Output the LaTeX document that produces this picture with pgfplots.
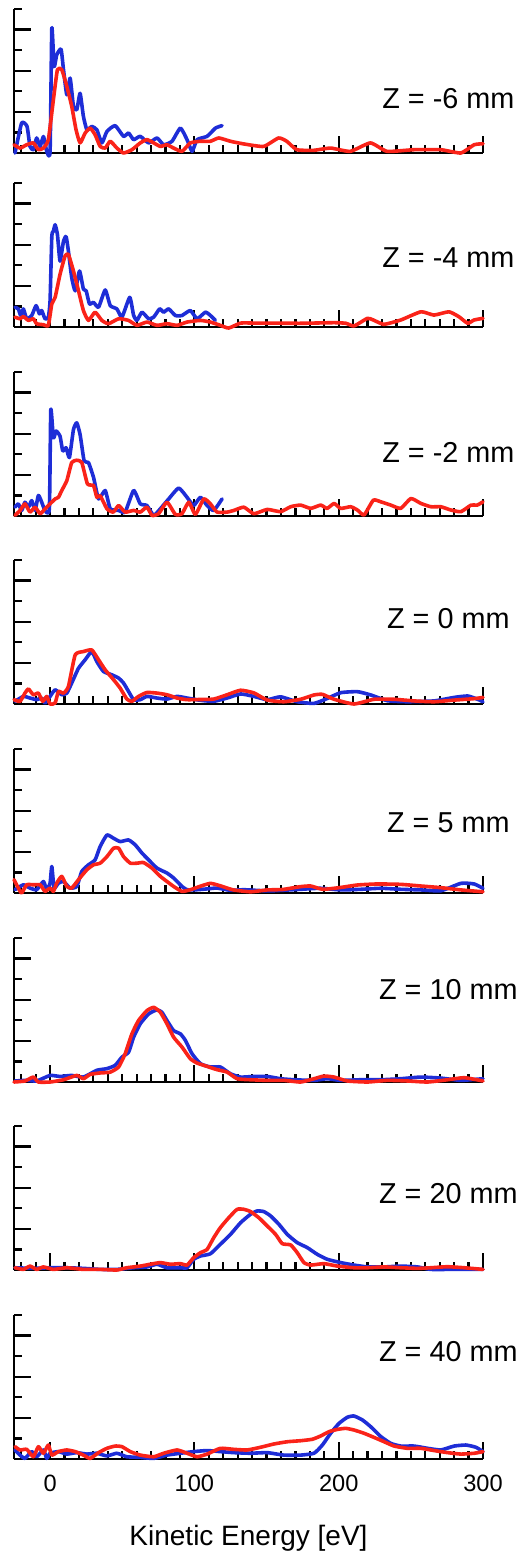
\documentclass[border=0pt]{standalone}
\usepackage{fontspec}
\setmainfont{Liberation Sans}
\usepackage{pgfplots}
\pgfplotsset{compat=1.18}
\definecolor{cblue}{RGB}{30,45,215}
\definecolor{cred}{RGB}{250,35,25}
\pgfplotsset{
  panel/.style={
    width=234.5pt, height=72pt, scale only axis,
    xmin=-25, xmax=300, ymin=0, ymax=7,
    axis lines=left, axis line style={-, line width=1.2pt, black},
    xtick={0,100,200,300}, minor xtick={-20,-10,...,300},
    ytick={2,4,6}, minor ytick={1,3,5,7},
    yticklabels={},
    tick style={black, line width=1.1pt},
    major tick length=8.5pt, minor tick length=4pt,
    tick align=inside,
    clip=false,
    anchor=south west,
    every axis plot/.append style={line width=1.8pt, line join=round, line cap=round, smooth, tension=0.3},
  },
  nolab/.style={xticklabels={}},
  bl/.style={cblue, no marks},
  rd/.style={cred, no marks},
}
\newcommand{\zlab}[2]{\node[font=\fontsize{14.4}{17}\selectfont, anchor=center] at (axis cs:276,#1) {#2};}
\begin{document}
\begin{tikzpicture}
\path[use as bounding box] (-7pt,-700pt) rectangle (256pt,76.5pt);

% Z = -6 mm
\begin{axis}[panel, nolab, at={(0pt,0pt)}]
\addplot[bl] coordinates {(-24.3,0)(-19.7,1.46)(-16,1.3)(-13.9,0.32)(-11.6,0.16)(-9.3,0.73)(-6.9,0.32)(-4.6,0.8)(-2.3,0.08)(0,0.08)(1.2,6.07)(2.8,4.2)(4.6,4.77)(7.6,5.05)(9.3,4.05)(11.6,2.83)(13.9,3.64)(16.2,2.27)(18.5,2.1)(20.8,2.9)(23.1,1.78)(25.5,1.13)(28.9,1.29)(32.4,1.13)(35.9,0.49)(39.4,1.05)(45.1,1.33)(50.9,0.81)(54.4,0.97)(57.9,0.65)(62.5,0.81)(68.3,0.49)(74.1,0.73)(78.7,0.4)(84.5,0.57)(90.3,1.21)(94.9,0.65)(98.4,0.08)(101.9,0.65)(108.8,0.81)(114.6,1.21)(119.2,1.33)};
\addplot[rd] coordinates {(-25,0.4)(-20.8,0.24)(-16.2,0.4)(-11.6,0.49)(-8.1,0.16)(-4.6,0.24)(-1.2,0.65)(2.3,2.59)(5.1,4.05)(8.1,4.05)(11.6,3.24)(15,2.27)(18,1.13)(20.8,0.49)(24.3,0.97)(27.8,1.21)(31.2,0.89)(34.7,0.32)(38.2,0.24)(41.7,0.57)(46.3,0.24)(50.9,0)(56.7,0.16)(62.5,0.49)(67.1,0.65)(71.8,0.49)(76.4,0.32)(81,0.4)(85.6,0.24)(91.4,0.08)(97.2,0.49)(104.2,0.57)(111.1,0.57)(116.9,0.73)(125,0.57)(134.3,0.44)(148,0.32)(158.3,0.73)(164,0.57)(171,0.16)(182.6,0.13)(194.4,0.24)(208,0.08)(222,0.49)(233.5,0.08)(252,0.16)(270.8,0.16)(284.7,0)(293.8,0.4)(300,0.45)};
\zlab{2.65}{Z = -6 mm}
\end{axis}

% Z = -4 mm
\begin{axis}[panel, nolab, at={(0pt,-87pt)}]
\addplot[bl] coordinates {(-24.3,0.96)(-22,0.88)(-20.4,0.56)(-18.5,0.88)(-16.2,0.4)(-12.7,0.56)(-9.7,1.04)(-7.4,0.64)(-5.8,0.8)(-3.5,0.4)(-1.2,0.48)(0,1.28)(1.2,4.4)(2.3,4.65)(3.5,4.97)(5.1,4.49)(6.9,3.2)(9.3,4.17)(11.1,4.4)(12.7,3.69)(15,2.4)(17.4,1.76)(20.4,2.72)(23.1,1.84)(25,1.76)(27.3,1.12)(30.1,1.2)(33.6,0.96)(38.2,1.8)(41.7,1.04)(46.3,0.88)(49.8,0.48)(55.2,1.44)(57.9,0.56)(60.2,0.32)(63.7,0.72)(68.3,0.4)(71.8,0.48)(75.9,0.88)(78.7,0.72)(82.2,0.88)(86.8,0.56)(91.4,0.56)(97.2,0.8)(101.9,0.4)(107.6,0.72)(111.1,0.56)(114.6,0.32)};
\addplot[rd] coordinates {(-24.3,0.48)(-20.8,0.4)(-18.5,0.51)(-15,0.32)(-11.6,0.4)(-9.3,0.16)(-4.6,0.11)(-1.2,0.08)(1.2,1.12)(3.5,1.44)(6.9,2.56)(10.4,3.45)(12.7,3.53)(16.2,2.72)(19.7,1.76)(23.1,0.8)(26.6,0.32)(31.2,0.72)(35.9,0.32)(40.5,0.16)(47.5,0.4)(54.4,0.32)(60.2,0.08)(67.1,0.24)(74.1,0.08)(81,0.16)(88,0.08)(94.9,0.24)(104.2,0.32)(111.1,0.24)(118,0.08)(123.8,-0.05)(132,0.19)(141.2,0.19)(150,0.19)(173.6,0.18)(196.8,0.21)(205,0.18)(210.6,0.05)(219.9,0.42)(224,0.34)(231.3,0.13)(243,0.34)(257,0.74)(266,0.58)(276.4,0.74)(283.3,0.5)(289.4,0.18)(293.8,0.34)(300,0.42)};
\zlab{3.37}{Z = -4 mm}
\end{axis}

% Z = -2 mm
\begin{axis}[panel, nolab, at={(0pt,-181.5pt)}]
\addplot[bl] coordinates {(-24.3,0.43)(-22,0.59)(-19.7,0.27)(-17.4,0.67)(-15,0.43)(-12.7,0.75)(-10.4,0.27)(-8.1,1.0)(-5.8,0.67)(-3.5,0.27)(-0.5,0.35)(0.5,5.17)(2.3,3.8)(4.2,4.13)(6.9,3.88)(8.8,3.16)(11.1,3.32)(13.4,2.84)(16.2,4.2)(18.5,4.53)(20.8,3.96)(23.6,2.68)(26.6,2.6)(30.1,1.88)(33.6,0.83)(38.2,1.24)(41.7,0.35)(47.5,0.27)(52,0.19)(57.9,1.24)(62.5,0.59)(67.1,0.51)(71.8,0.03)(76.4,0.35)(82.2,0.83)(89.1,1.36)(94.9,0.91)(99.5,0.51)(104.2,0.91)(108.8,0.51)(113.4,0.27)(119.2,0.83)};
\addplot[rd] coordinates {(-24.3,0.03)(-20.8,0.27)(-17.4,0.59)(-13.9,0.19)(-10.4,0.43)(-6.9,0.11)(-3.5,0.35)(0,0.59)(3.5,0.83)(5.8,0.91)(8.1,1.24)(11.6,1.72)(15,2.6)(18.5,2.71)(22,2.6)(25.9,1.56)(30.1,1.48)(32.4,0.91)(34.7,0.99)(39.4,0.35)(43.8,0.19)(47.5,0.51)(52,0.19)(57.9,0.27)(62.5,0.19)(67.1,0.43)(70.6,0.03)(75.2,0.11)(81,0.67)(86.8,0.08)(91.4,0.11)(96.1,0.67)(100.7,0.08)(106.5,0.83)(111.1,0.59)(115.7,0.19)(122.7,0.19)(127.3,0.27)(134.3,0.43)(141.2,0.11)(150.5,0.32)(159.7,0.21)(166.7,0.45)(173.6,0.53)(180.6,0.37)(187.5,0.53)(192,0.37)(196.8,0.61)(201.4,0.37)(208.3,0.45)(213,0.29)(217.6,0.05)(224,0.77)(229.2,0.69)(236.1,0.53)(243,0.37)(250,0.85)(257,0.61)(263.9,0.45)(270.8,0.45)(277.8,0.29)(284.7,0.21)(291.7,0.53)(296,0.53)(300,0.69)};
\zlab{3.1}{Z = -2 mm}
\end{axis}

% Z = 0 mm
\begin{axis}[panel, nolab, at={(0pt,-275.5pt)}]
\addplot[bl] coordinates {(-24.3,0.13)(-18.5,0.37)(-13.9,0.29)(-9.3,0.21)(-5.8,0.29)(-3.5,0.05)(0,0.37)(3.5,0.69)(8.1,0.45)(11.6,0.53)(15,1.02)(19.7,1.74)(24.3,2.15)(28.9,2.55)(32.4,2.06)(37,1.58)(42.8,1.42)(47.5,1.26)(50.9,1.02)(54.4,0.61)(57.9,0.21)(62.5,0.21)(67.1,0.37)(74.1,0.29)(81,0.24)(88,0.37)(94.9,0.29)(104.2,0.18)(113.4,0.13)(122.7,0.29)(132,0.49)(141.2,0.37)(150.5,0.21)(159.7,0.35)(171.3,0.11)(182.9,0.03)(192.1,0.27)(201.4,0.55)(213,0.6)(222.2,0.44)(233.8,0.16)(247.7,0.11)(266,0.15)(280,0.32)(289.4,0.39)(296.3,0.23)(300,0.11)};
\addplot[rd] coordinates {(-25,0.21)(-20.8,0.13)(-17.4,0.53)(-15,0.73)(-11.6,0.45)(-8.1,0.53)(-5.1,0.13)(-2.3,0.37)(0,0)(3.5,0.05)(5.8,0.61)(9.3,0.53)(12.7,0.85)(17.4,2.39)(23.1,2.55)(28.9,2.63)(33.6,2.15)(38.2,1.66)(44,1.18)(48.6,0.77)(53.2,0.24)(56.7,0.13)(61.3,0.37)(67.1,0.56)(74.1,0.53)(81,0.45)(88,0.29)(94.9,0.21)(104.2,0.22)(113.4,0.24)(122.7,0.45)(132,0.67)(141.2,0.54)(150.5,0.19)(161.8,0.11)(173.6,0.23)(182.9,0.44)(188.7,0.47)(196.8,0.23)(210.6,0)(224.5,0.23)(238.4,0.23)(252.3,0.15)(266.2,0.11)(280,0.19)(293.8,0.26)(300,0.32)};
\zlab{4.13}{Z = 0 mm}
\end{axis}

% Z = 5 mm
\begin{axis}[panel, nolab, at={(0pt,-370pt)}]
\addplot[bl] coordinates {(-24.3,0.16)(-18.5,0.4)(-13.9,0.24)(-9.3,0.16)(-4.6,0.56)(-2.3,0.16)(0,0.48)(1.2,1.29)(2.8,0.24)(5.8,0.48)(9.3,0.56)(13.9,0.24)(18.5,0.32)(22,1.05)(26.6,1.37)(31.2,1.61)(34.7,2.26)(39.4,2.82)(44,2.66)(48.6,2.5)(54.4,2.58)(59,2.34)(63.7,1.94)(68.3,1.61)(74.1,1.21)(81,0.97)(85.6,0.73)(91.4,0.32)(94.9,0.16)(101.9,0.16)(108.8,0.2)(115.7,0.24)(125,0.13)(134.3,0.16)(148,0.11)(155,0.11)(173.6,0.18)(187.5,0.23)(201.4,0.15)(215.3,0.18)(229,0.23)(243,0.18)(257,0.15)(270.8,0.11)(284.7,0.47)(293.8,0.44)(300,0.23)};
\addplot[rd] coordinates {(-25,0.65)(-22,0.24)(-19.7,0)(-16.2,0.4)(-11.6,0.4)(-6.9,0.4)(-3.5,0.08)(0,0.24)(2.3,0.08)(4.6,0.48)(8.1,0.81)(11.6,0.32)(15,0.24)(19.7,0.65)(25.5,1.13)(30.1,1.37)(34.7,1.45)(39.4,1.77)(44,2.18)(47.5,2.18)(50.9,1.77)(55.6,1.45)(60.2,1.45)(64.8,1.48)(70.6,1.21)(76.4,0.81)(81,0.56)(85.6,0.32)(91.4,0.08)(97.2,0.16)(104.2,0.33)(111.1,0.47)(118,0.35)(127,0.15)(139,0.06)(150.5,0.15)(161,0.17)(173.6,0.31)(180.6,0.34)(189,0.18)(201.4,0.27)(213,0.39)(226.9,0.44)(243,0.42)(257,0.34)(270.8,0.26)(284.7,0.15)(300,0.06)};
\zlab{3.4}{Z = 5 mm}
\end{axis}

% Z = 10 mm
\begin{axis}[panel, nolab, at={(0pt,-464.5pt)}]
\addplot[bl] coordinates {(-24.3,0.05)(-16.2,0.08)(-9.3,0.05)(0,0.32)(6.9,0.27)(15,0.32)(23.1,0.24)(32.4,0.57)(39.4,0.65)(45.1,0.81)(49.8,1.21)(54.4,1.45)(57.9,2.18)(62.5,2.83)(68.3,3.31)(74.1,3.51)(77.5,3.39)(81,2.99)(85.6,2.5)(90.3,2.34)(93.8,2.02)(98.4,1.37)(104.2,0.89)(111.1,0.73)(118,0.73)(125,0.4)(132,0.24)(141.2,0.27)(150.5,0.27)(159.7,0.16)(169,0.11)(182.9,0.08)(192,0.16)(201.4,0.08)(215.3,0.11)(229.2,0.11)(243,0.16)(256.9,0.24)(270.8,0.19)(284.7,0.08)(300,0.16)};
\addplot[rd] coordinates {(-25,0)(-17.4,0.05)(-11.6,0.24)(-8.1,0)(0,0)(9.3,0.11)(18.5,0.32)(23.1,0.16)(27.8,0.37)(34.7,0.44)(41.7,0.48)(47.5,0.73)(52,1.37)(56.7,2.34)(61.3,2.99)(67.1,3.47)(71.8,3.63)(76.4,3.39)(81,2.83)(85.6,2.18)(91.4,1.7)(97.2,1.13)(101.9,0.92)(108.8,0.76)(115.7,0.6)(122.7,0.48)(129.6,0.16)(138.9,0.11)(150.5,0.08)(162,0.08)(173.6,0)(182.9,0.16)(189.8,0.29)(196.8,0.24)(206,0.05)(220,0)(233.8,0.08)(247.7,0.05)(261.6,0)(275.5,0.11)(287,0.21)(300,0.05)};
\zlab{4.5}{Z = 10 mm}
\end{axis}

% Z = 20 mm
\begin{axis}[panel, nolab, at={(0pt,-558.5pt)}]
\addplot[bl] coordinates {(-24.3,0.11)(-11.6,0.08)(0,0.11)(11.6,0.11)(23.1,0.08)(34.7,0.03)(46.3,0.03)(57.9,0.11)(67.1,0.15)(74.1,0.28)(81,0.11)(90.3,0.11)(94.9,0.11)(99.5,0.52)(104.2,0.68)(111.1,0.79)(118,1.25)(125,1.73)(132,2.3)(138.9,2.71)(143.5,2.87)(148.1,2.84)(152.8,2.63)(158.6,2.22)(164.4,1.73)(171.3,1.33)(178.2,1.09)(185.2,0.76)(192.1,0.52)(201.4,0.36)(210.6,0.24)(219.9,0.15)(231.5,0.15)(243,0.19)(254.6,0.15)(263.9,0.03)(277.8,0.03)(289.4,0.03)(300,0.03)};
\addplot[rd] coordinates {(-24.3,0.11)(-18.5,0.03)(-13.9,0.19)(-9.3,0.03)(-4.6,0.15)(2.3,0.03)(11.6,0.11)(23.1,0.03)(34.7,0.03)(46.3,0)(53.2,0.11)(62.5,0.19)(69.4,0.28)(76.4,0.36)(83.3,0.28)(90.3,0.31)(94.9,0.24)(99.5,0.6)(104.2,0.84)(108.8,1.0)(113.4,1.57)(118,2.06)(123.8,2.54)(129.6,2.95)(134.3,2.95)(138.9,2.84)(144.7,2.54)(150.5,2.14)(156.3,1.73)(160.9,1.28)(166.7,1.22)(171.3,0.84)(175.9,0.36)(180.6,0.24)(189.8,0.31)(199.1,0.19)(210.6,0.11)(219.9,0.11)(231.5,0.15)(243,0.11)(254.6,0.08)(263.9,0.11)(275.5,0.16)(287,0.11)(300,0.03)};
\zlab{3.7}{Z = 20 mm}
\end{axis}

% Z = 40 mm
\begin{axis}[panel, at={(0pt,-653pt)},
  /pgf/number format/assume math mode=true,
  xticklabel style={font=\fontsize{11.8}{14}\selectfont, anchor=base, yshift=-16.3pt},
]
\addplot[bl] coordinates {(-24.3,0.44)(-20.8,0.19)(-17.4,0.03)(-12.7,0.36)(-9.3,0.11)(-4.6,0.44)(-2.3,0.03)(0,0.28)(5.8,0.36)(11.6,0.24)(18.5,0.31)(25.5,0.24)(32.4,0.28)(39.4,0.15)(46.3,0.28)(53.2,0.11)(62.5,0.08)(71.8,0.03)(81,0.19)(90.3,0.28)(99.5,0.36)(108.8,0.41)(118,0.36)(127.3,0.31)(138.9,0.28)(150.5,0.31)(162,0.19)(173.6,0.19)(182.9,0.28)(188.7,0.68)(194.4,1.25)(200.2,1.73)(206,2.03)(210.6,2.09)(216.4,1.9)(222.2,1.57)(229.2,1.09)(236.1,0.76)(243,0.63)(252.3,0.63)(261.6,0.52)(270.8,0.44)(280,0.63)(288.2,0.68)(295.1,0.57)(300,0.36)};
\addplot[rd] coordinates {(-24.3,0.6)(-20.8,0.44)(-16.2,0.47)(-11.6,0.11)(-8.1,0.6)(-4.6,0.28)(-1.2,0.68)(1.2,0.19)(5.8,0.36)(11.6,0.44)(17.4,0.36)(23.1,0.19)(27.8,0.03)(33.6,0.31)(39.4,0.52)(45.1,0.63)(49.8,0.6)(55.6,0.36)(62.5,0.19)(71.8,0.11)(78.7,0.28)(88,0.44)(94.9,0.28)(101.9,0.11)(108.8,0.24)(118,0.52)(127.3,0.47)(136.6,0.44)(145.8,0.57)(155.1,0.73)(164.4,0.84)(173.6,0.89)(181.7,0.96)(187.5,1.12)(193.3,1.33)(199.1,1.44)(204.9,1.49)(210.6,1.41)(217.6,1.25)(224.5,1.05)(231.5,0.84)(238.4,0.63)(247.7,0.52)(256.9,0.52)(266.2,0.41)(275.5,0.31)(284.7,0.24)(294,0.28)(300,0.36)};
\zlab{5.2}{Z = 40 mm}
\node[font=\fontsize{14}{17}\selectfont, anchor=base] at (rel axis cs:0.5,0) [yshift=-43pt] {Kinetic Energy [eV]};
\end{axis}
\end{tikzpicture}
\end{document}
